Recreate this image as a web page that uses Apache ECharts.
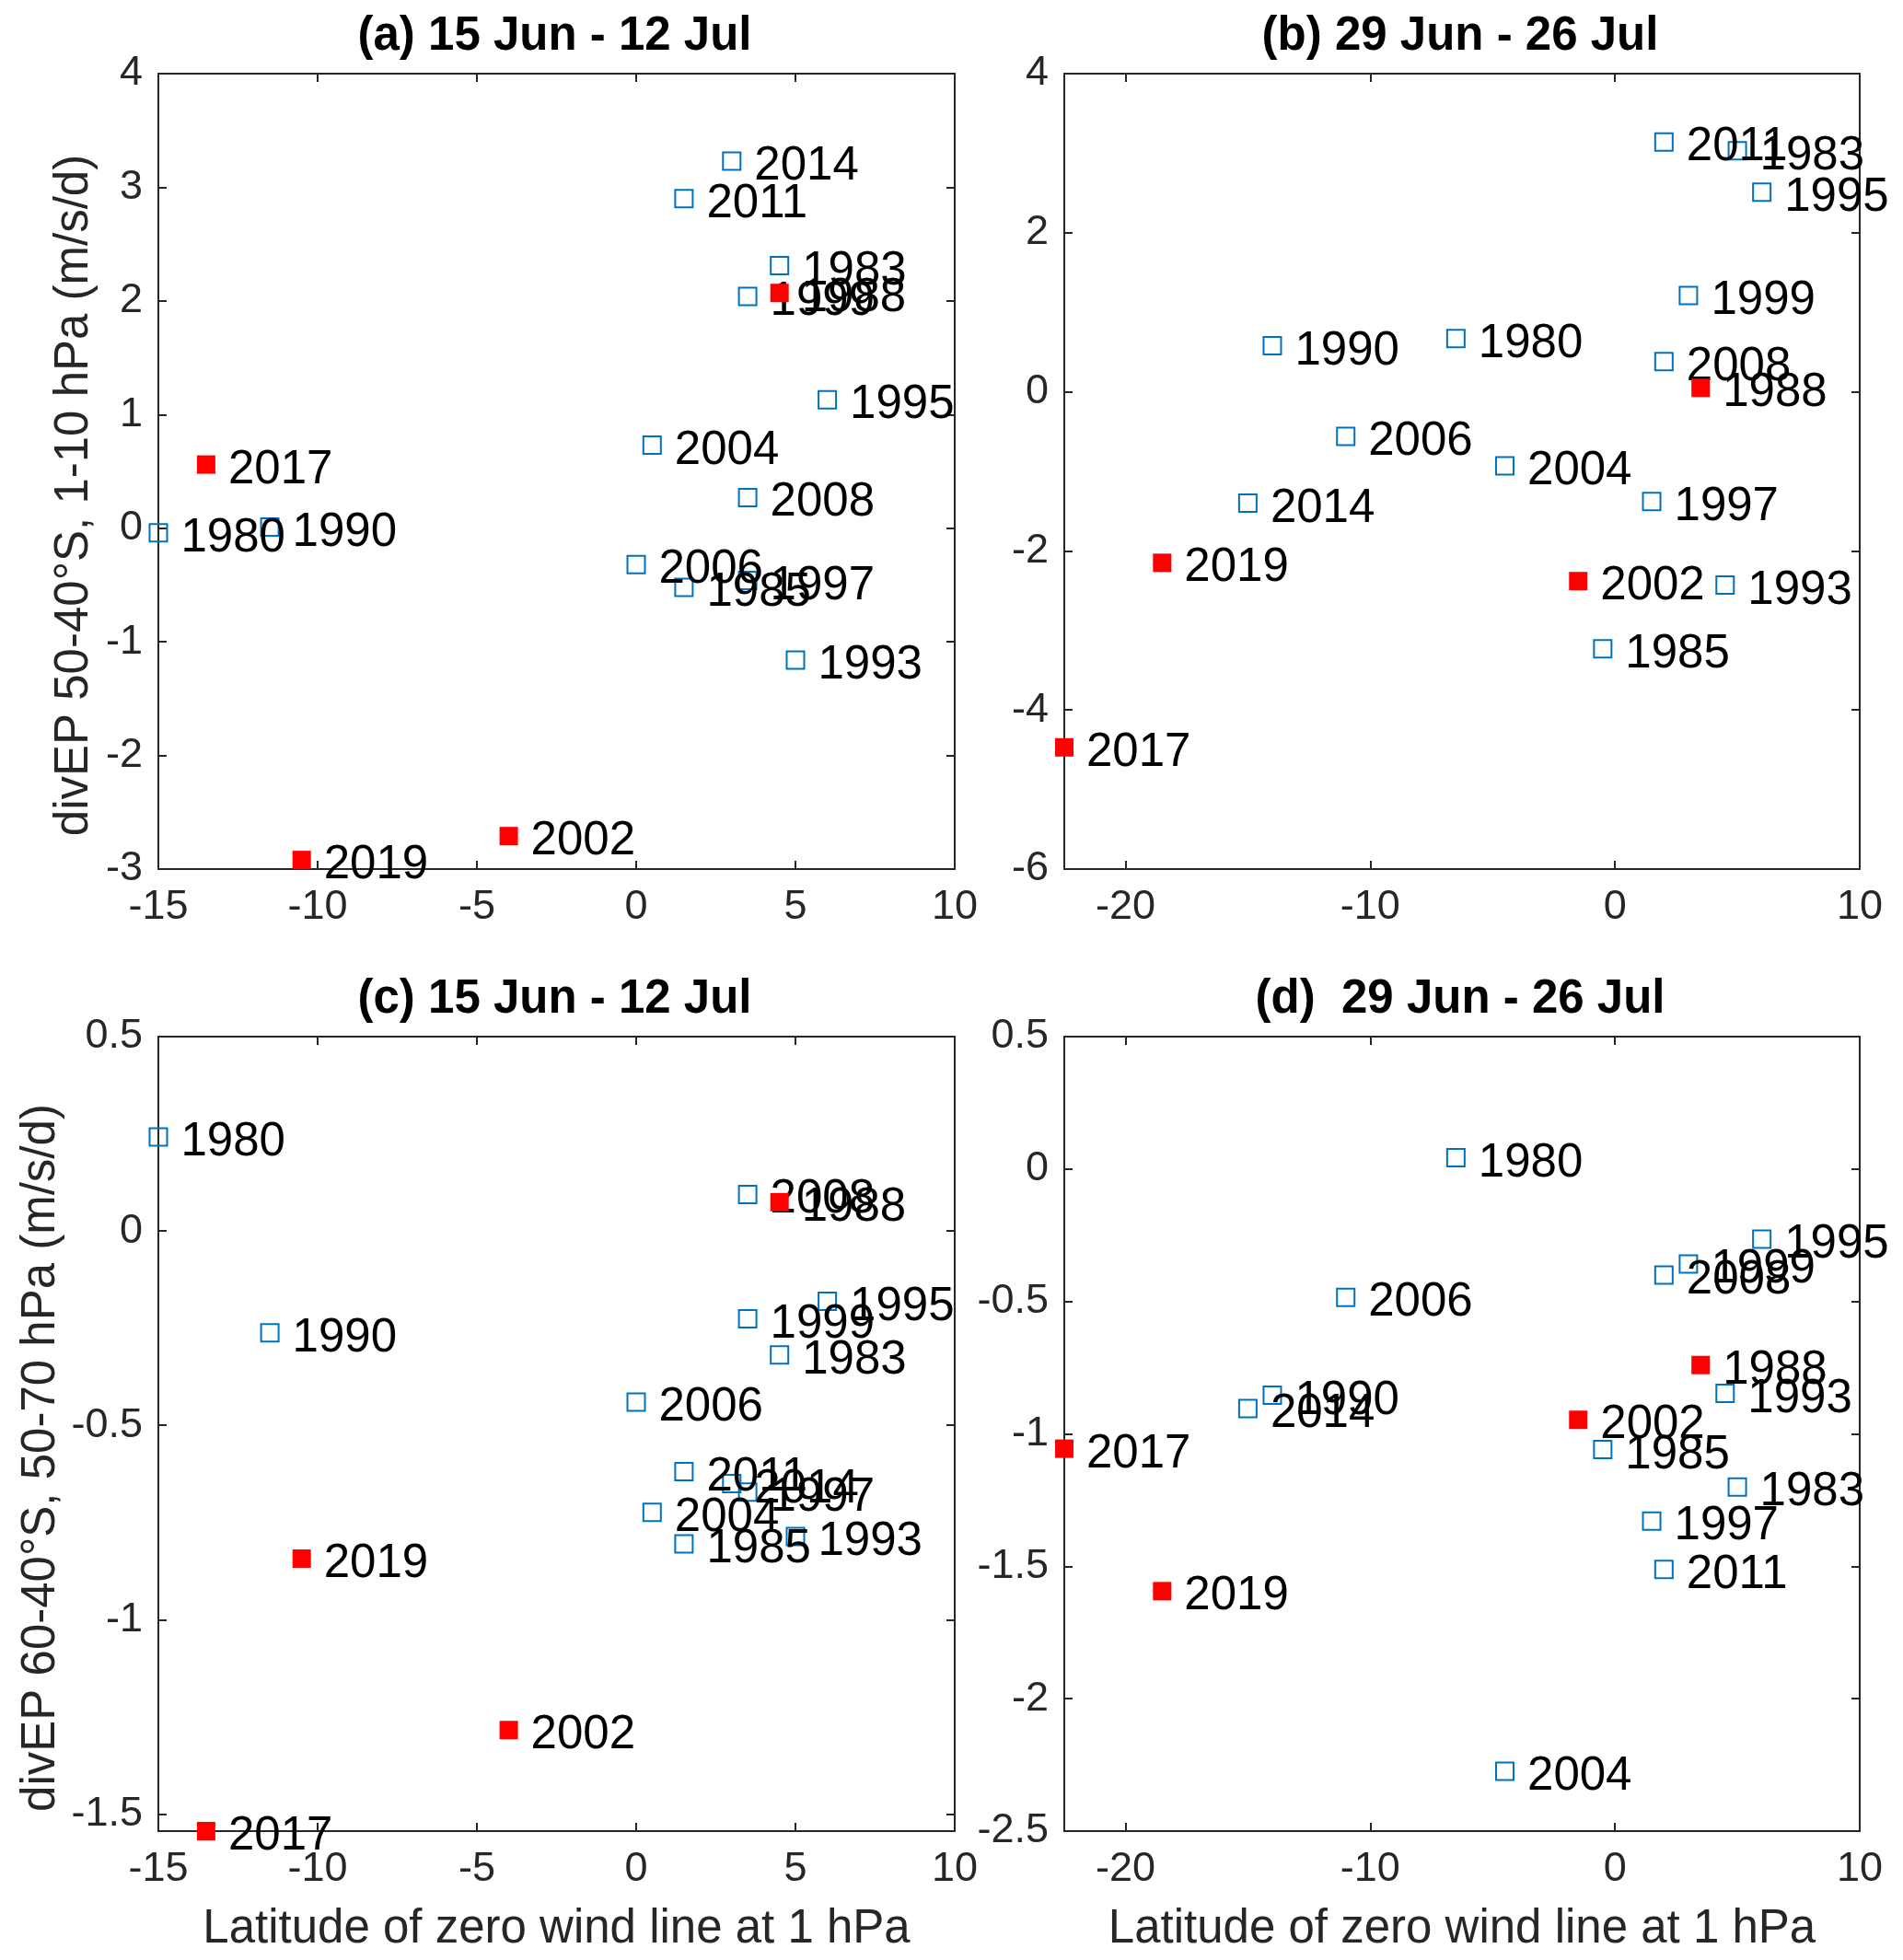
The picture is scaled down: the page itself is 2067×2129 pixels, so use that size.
<!DOCTYPE html>
<html>
<head>
<meta charset="utf-8">
<script src="https://cdn.jsdelivr.net/npm/echarts@6/dist/echarts.min.js"></script>
<style>
html,body{margin:0;padding:0;background:#fff;}
#chart{width:2067px;height:2129px;}
</style>
</head>
<body>
<div id="chart"></div>
<script>
// ---- data ----
const years = [1980, 1983, 1985, 1988, 1990, 1993, 1995, 1997, 1999, 2002, 2004, 2006, 2008, 2011, 2014, 2017, 2019];
const redYears = [1988, 2002, 2017, 2019];
// latitude of zero wind line at 1 hPa
const lat15Jun12Jul = [-15, 4.5, 1.5, 4.5, -11.5, 5, 6, 3.5, 3.5, -4, 0.5, 0, 3.5, 1.5, 3, -13.5, -10.5];
const lat29Jun26Jul = [-6.5, 5, -0.5, 3.5, -14, 4.5, 6, 1.5, 3, -1.5, -4.5, -11, 2, 2, -15, -22.5, -18.5];
// divEP 50-40S, 1-10 hPa
const divUpper15Jun = [-0.04, 2.31, -0.52, 2.07, 0.01, -1.16, 1.13, -0.46, 2.04, -2.71, 0.73, -0.32, 0.27, 2.90, 3.23, 0.56, -2.92];
const divUpper29Jun = [0.67, 3.03, -3.23, 0.05, 0.58, -2.43, 2.51, -1.38, 1.21, -2.38, -0.93, -0.56, 0.38, 3.14, -1.40, -4.47, -2.15];
// divEP 60-40S, 50-70 hPa
const divLower15Jun = [0.242, -0.319, -0.805, 0.074, -0.262, -0.786, -0.181, -0.672, -0.226, -1.284, -0.724, -0.44, 0.094, -0.619, -0.65, -1.544, -0.843];
const divLower29Jun = [0.043, -1.201, -1.059, -0.74, -0.854, -0.847, -0.265, -1.329, -0.359, -0.947, -2.274, -0.485, -0.40, -1.512, -0.904, -1.056, -1.594];
// tick labels
const xTicks15Jun = [-15, -10, -5, 0, 5, 10];
const xTicks29Jun = [-20, -10, 0, 10];
const yTicksA = [-3, -2, -1, 0, 1, 2, 3, 4];
const yTicksB = [-6, -4, -2, 0, 2, 4];
const yTicksC = [-1.5, -1, -0.5, 0, 0.5];
const yTicksD = [-2.5, -2, -1.5, -1, -0.5, 0, 0.5];
const titles = ['(a) 15 Jun - 12 Jul', '(b) 29 Jun - 26 Jul', '(c) 15 Jun - 12 Jul', '(d)  29 Jun - 26 Jul'];
const yNameTop = 'divEP 50-40°S, 1-10 hPa (m/s/d)';
const yNameBottom = 'divEP 60-40°S, 50-70 hPa (m/s/d)';
const xNameBottom = 'Latitude of zero wind line at 1 hPa';

// ---- layout ----
const FONT = 'Liberation Sans, Arial, Helvetica, sans-serif';
const AX = '#262626';
const panels = [
  {grid:{left:172, top:80, width:865, height:864}, lat:lat15Jun12Jul, div:divUpper15Jun, xMin:-15, xMax:10, yMin:-3, yMax:4, xTicks:xTicks15Jun, yTicks:yTicksA, yName:yNameTop, yGap:66, xName:''},
  {grid:{left:1156, top:80, width:864, height:864}, lat:lat29Jun26Jul, div:divUpper29Jun, xMin:-22.5, xMax:10, yMin:-6, yMax:4, xTicks:xTicks29Jun, yTicks:yTicksB, yName:'', yGap:0, xName:''},
  {grid:{left:172, top:1126, width:865, height:863}, lat:lat15Jun12Jul, div:divLower15Jun, xMin:-15, xMax:10, yMin:-1.544, yMax:0.5, xTicks:xTicks15Jun, yTicks:yTicksC, yName:yNameBottom, yGap:102, xName:xNameBottom},
  {grid:{left:1156, top:1126, width:864, height:863}, lat:lat29Jun26Jul, div:divLower29Jun, xMin:-22.5, xMax:10, yMin:-2.5, yMax:0.5, xTicks:xTicks29Jun, yTicks:yTicksD, yName:'', yGap:0, xName:xNameBottom}
];

const grid = [], xAxis = [], yAxis = [], series = [], title = [];

function axisCommon(ticks, showLabel, margin) {
  return {
    type: 'value',
    axisLine: {show: true, onZero: false, lineStyle: {color: AX, width: 2}},
    axisTick: {show: true, inside: true, length: 9, customValues: ticks, lineStyle: {color: AX, width: 2}},
    axisLabel: {show: showLabel, customValues: ticks, margin: margin, fontSize: 45, color: AX, fontFamily: FONT},
    splitLine: {show: false}
  };
}

panels.forEach((p, i) => {
  grid.push(Object.assign({containLabel: false}, p.grid));
  const cx = p.grid.left + p.grid.width / 2 - 7;
  title.push({
    text: titles[i], left: cx, top: p.grid.top - 71, textAlign: 'center',
    textStyle: {fontSize: 51, fontWeight: 'bold', color: '#000', fontFamily: FONT}
  });
  // bottom x axis
  xAxis.push(Object.assign(axisCommon(p.xTicks, true, 19), {
    gridIndex: i, position: 'bottom', min: p.xMin, max: p.xMax,
    name: p.xName, nameLocation: 'middle', nameGap: 81,
    nameTextStyle: {fontSize: 51, color: AX, fontFamily: FONT}
  }));
  // top mirror
  xAxis.push(Object.assign(axisCommon(p.xTicks, false, 19), {
    gridIndex: i, position: 'top', min: p.xMin, max: p.xMax
  }));
  // left y axis
  yAxis.push(Object.assign(axisCommon(p.yTicks, true, 17), {
    gridIndex: i, position: 'left', min: p.yMin, max: p.yMax,
    name: p.yName, nameLocation: 'middle', nameGap: p.yGap,
    nameTextStyle: {fontSize: 51, color: AX, fontFamily: FONT, padding: [0, 52, 0, 0]}
  }));
  // right mirror
  yAxis.push(Object.assign(axisCommon(p.yTicks, false, 17), {
    gridIndex: i, position: 'right', min: p.yMin, max: p.yMax
  }));

  const blue = [], red = [];
  years.forEach((yr, k) => {
    const pt = [p.lat[k], p.div[k], yr];
    (redYears.indexOf(yr) >= 0 ? red : blue).push(pt);
  });
  const label = {
    show: true, position: 'right', distance: 14, offset: [0, 6],
    formatter: (d) => String(d.value[2]),
    fontSize: 51, color: '#000', fontFamily: FONT
  };
  series.push({
    type: 'scatter', xAxisIndex: 2 * i, yAxisIndex: 2 * i, data: blue,
    symbol: 'rect', symbolSize: 19, z: 2,
    itemStyle: {color: 'rgba(0,0,0,0)', borderColor: '#0072BD', borderWidth: 2, opacity: 1},
    label: label, emphasis: {disabled: true}, animation: false
  });
  series.push({
    type: 'scatter', xAxisIndex: 2 * i, yAxisIndex: 2 * i, data: red,
    symbol: 'rect', symbolSize: 20, z: 3,
    itemStyle: {color: '#FF0000', opacity: 1},
    label: label, emphasis: {disabled: true}, animation: false
  });
});

const chart = echarts.init(document.getElementById('chart'));
chart.setOption({
  backgroundColor: '#fff',
  animation: false,
  title: title,
  grid: grid,
  xAxis: xAxis,
  yAxis: yAxis,
  series: series
});
</script>
</body>
</html>
